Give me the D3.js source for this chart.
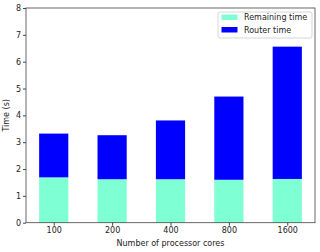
<!DOCTYPE html>
<html><head><meta charset="utf-8">
<script src="https://cdn.jsdelivr.net/npm/d3@7"></script>
<style>body{margin:0;background:#fff}svg{display:block;font-family:"DejaVu Sans",sans-serif}</style>
</head><body><svg id="c" width="320" height="252"></svg>
<script>
const categories = ["100","200","400","800","1600"];
const remaining = [1.69,1.62,1.62,1.60,1.63];
const router = [1.63,1.64,2.19,3.10,4.93];
const yTicks = [0,1,2,3,4,5,6,7,8];
const seriesNames = ["Remaining time","Router time"];
const colors = ["#7fffd4","#0000ff"];

const svg = d3.select("#c");
const L=26,R=315,T=8,B=222.7;
const x = d3.scaleLinear().domain([-0.475,4.475]).range([L,R]);
const y = d3.scaleLinear().domain([0,8]).range([B,T]);
const bw = 0.5;
const data = categories.map((c,i)=>({c,i,r:remaining[i],t:router[i]}));

const g = svg.append("g");
g.selectAll("rect.rem").data(data).enter().append("rect")
 .attr("x",d=>x(d.i-bw/2)).attr("width",d=>x(d.i+bw/2)-x(d.i-bw/2))
 .attr("y",d=>y(d.r)).attr("height",d=>y(0)-y(d.r)).attr("fill",colors[0]);
g.selectAll("rect.rt").data(data).enter().append("rect")
 .attr("x",d=>x(d.i-bw/2)).attr("width",d=>x(d.i+bw/2)-x(d.i-bw/2))
 .attr("y",d=>y(d.r+d.t)).attr("height",d=>y(d.r)-y(d.r+d.t)).attr("fill",colors[1]);

const ax = svg.append("g").attr("transform",`translate(0,${B})`)
 .call(d3.axisBottom(x).tickValues(d3.range(categories.length)).tickFormat(i=>categories[i]).tickSize(3).tickPadding(2));
const ay = svg.append("g").attr("transform",`translate(${L},0)`)
 .call(d3.axisLeft(y).tickValues(yTicks).tickSize(3).tickPadding(2));
[ax,ay].forEach(a=>{a.select(".domain").remove();a.selectAll("text").attr("font-size",8).attr("fill","#222").attr("font-family","DejaVu Sans");a.selectAll("line").attr("stroke","#444");});

svg.append("rect").attr("x",L).attr("y",T).attr("width",R-L).attr("height",B-T)
 .attr("fill","none").attr("stroke","#444").attr("stroke-width",0.8);

svg.append("text").attr("x",(L+R)/2).attr("y",246).attr("text-anchor","middle")
 .attr("font-size",8).attr("fill","#222").text("Number of processor cores");
svg.append("text").attr("transform",`translate(9,${(T+B)/2}) rotate(-90)`).attr("text-anchor","middle")
 .attr("font-size",8).attr("fill","#222").text("Time (s)");

const lg = svg.append("g");
lg.append("rect").attr("x",218).attr("y",12).attr("width",94).attr("height",26).attr("rx",2)
 .attr("fill","#fff").attr("fill-opacity",0.8).attr("stroke","#ccc").attr("stroke-width",0.8);
seriesNames.forEach((n,k)=>{
  lg.append("rect").attr("x",221.5).attr("y",14.5+k*12.5).attr("width",16).attr("height",5.5).attr("fill",colors[k]);
  lg.append("text").attr("x",244).attr("y",20+k*12.5).attr("font-size",8).attr("fill","#222").text(n);
});
</script></body></html>
